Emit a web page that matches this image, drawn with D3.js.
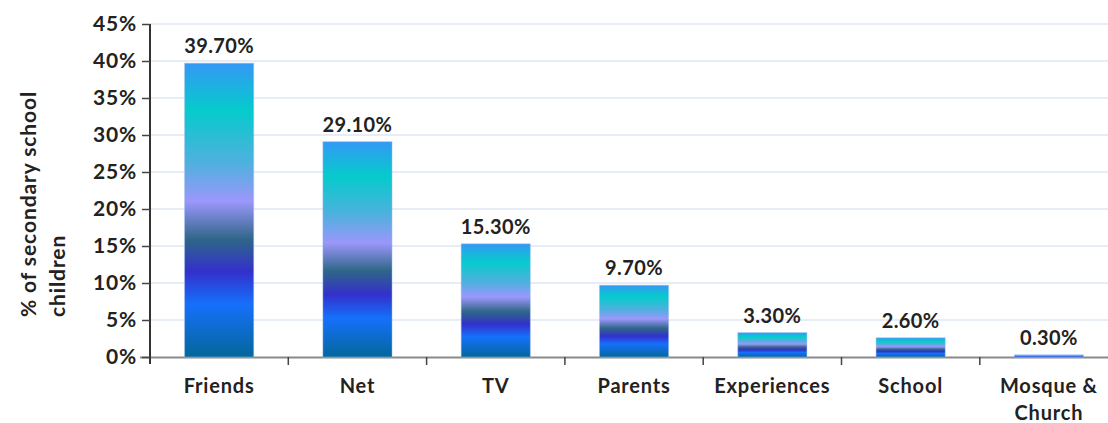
<!DOCTYPE html>
<html>
<head>
<meta charset="utf-8">
<script src="https://cdn.jsdelivr.net/npm/d3@7"></script>
<style>
  html, body { margin: 0; padding: 0; background: #fff; }
  svg { display: block; }
  text { font-family: Lato, "Open Sans", sans-serif; font-weight: 700; fill: #222; }
</style>
</head>
<body>
<svg id="chart" width="1108" height="423"></svg>
<script>
// Sources of information for secondary school children (% of respondents)
const categories = ["Friends", "Net", "TV", "Parents", "Experiences", "School", "Mosque & Church"];
const categoryLines = [["Friends"], ["Net"], ["TV"], ["Parents"], ["Experiences"], ["School"], ["Mosque &", "Church"]];
const values = [39.7, 29.1, 15.3, 9.7, 3.3, 2.6, 0.3];
const yTicks = [0, 5, 10, 15, 20, 25, 30, 35, 40, 45];
const yTitleLines = ["% of secondary school", "children"];

const svg = d3.select("#chart");
const W = 1108;
const plotLeft = 150, plotTop = 24, plotBottom = 357;
const step = 138.3;

const x = d3.scaleBand()
  .domain(categories)
  .range([plotLeft, plotLeft + step * categories.length])
  .paddingInner(0.5)
  .paddingOuter(0.25);

const y = d3.scaleLinear().domain([0, 45]).range([plotBottom, plotTop]);

// Vertical gradient shared by all bars (stretched to each bar's box)
const grad = svg.append("defs").append("linearGradient")
  .attr("id", "barFill")
  .attr("x1", 0).attr("y1", 0).attr("x2", 0).attr("y2", 1);
[
  [0.00, "#3498f5"],
  [0.16, "#05cbcc"],
  [0.34, "#4fb0de"],
  [0.47, "#9b97fb"],
  [0.60, "#2f6688"],
  [0.71, "#3330cc"],
  [0.82, "#1570fb"],
  [1.00, "#04679a"]
].forEach(([o, c]) => grad.append("stop").attr("offset", o).attr("stop-color", c));

// Horizontal gridlines
svg.append("g")
  .selectAll("line")
  .data(yTicks.filter(d => d > 0))
  .join("line")
  .attr("x1", plotLeft).attr("x2", W)
  .attr("y1", d => y(d)).attr("y2", d => y(d))
  .attr("stroke", "#e7edf6")
  .attr("stroke-width", 2);

// X axis baseline and category separators
const boundaries = d3.range(categories.length + 1).map(i => x.range()[0] + i * x.step());
svg.append("line")
  .attr("x1", plotLeft - 10).attr("x2", W)
  .attr("y1", y(0) + 0.5).attr("y2", y(0) + 0.5)
  .attr("stroke", "#8a8a8a").attr("stroke-width", 2);
svg.append("g")
  .selectAll("line")
  .data(boundaries.slice(1))
  .join("line")
  .attr("x1", d => d).attr("x2", d => d)
  .attr("y1", y(0)).attr("y2", y(0) + 8)
  .attr("stroke", "#444").attr("stroke-width", 1.5);

// Bars
svg.append("g")
  .selectAll("rect")
  .data(values)
  .join("rect")
  .attr("x", (d, i) => x(categories[i]))
  .attr("y", d => y(d))
  .attr("width", x.bandwidth())
  .attr("height", d => y(0) - y(d))
  .attr("fill", "url(#barFill)")
  .attr("stroke", "#9fc2ee")
  .attr("stroke-opacity", 0.45)
  .attr("stroke-width", 1);

// Value labels
svg.append("g")
  .selectAll("text")
  .data(values)
  .join("text")
  .attr("x", (d, i) => x(categories[i]) + x.bandwidth() / 2)
  .attr("y", d => y(d) - 10)
  .attr("text-anchor", "middle")
  .attr("font-size", 20)
  .attr("letter-spacing", 0.4)
  .text(d => d.toFixed(2) + "%");

// Y axis
const yAxis = d3.axisLeft(y)
  .tickValues(yTicks)
  .tickFormat(d => d + "%")
  .tickSizeInner(8)
  .tickSizeOuter(0)
  .tickPadding(5);
const gy = svg.append("g").attr("transform", `translate(${plotLeft},0)`).call(yAxis);
gy.select(".domain").attr("stroke", "#333").attr("stroke-width", 2)
  .attr("d", `M0,${plotTop}V${plotBottom + 7}`);
gy.selectAll(".tick line").attr("stroke", "#444").attr("stroke-width", 1.5);
gy.selectAll(".tick text").attr("font-size", 21).attr("fill", "#222")
  .attr("letter-spacing", 0.8)
  .style("font-family", "Lato, sans-serif").style("font-weight", 700);

// Category labels
const xl = svg.append("g")
  .selectAll("text")
  .data(categoryLines)
  .join("text")
  .attr("x", (d, i) => x(categories[i]) + x.bandwidth() / 2)
  .attr("y", 393)
  .attr("text-anchor", "middle")
  .attr("font-size", 20)
  .attr("letter-spacing", 0.8);
xl.selectAll("tspan")
  .data(d => d)
  .join("tspan")
  .attr("x", function () { return this.parentNode.getAttribute("x"); })
  .attr("dy", (d, i) => i === 0 ? 0 : 27)
  .text(d => d);

// Y axis title
const yt = svg.append("text")
  .attr("transform", "translate(36,317) rotate(-90)")
  .attr("text-anchor", "start")
  .attr("font-size", 21)
  .attr("letter-spacing", 0.9);
yt.selectAll("tspan")
  .data(yTitleLines)
  .join("tspan")
  .attr("x", 0)
  .attr("dy", (d, i) => i === 0 ? 0 : 29)
  .text(d => d);
</script>
</body>
</html>
